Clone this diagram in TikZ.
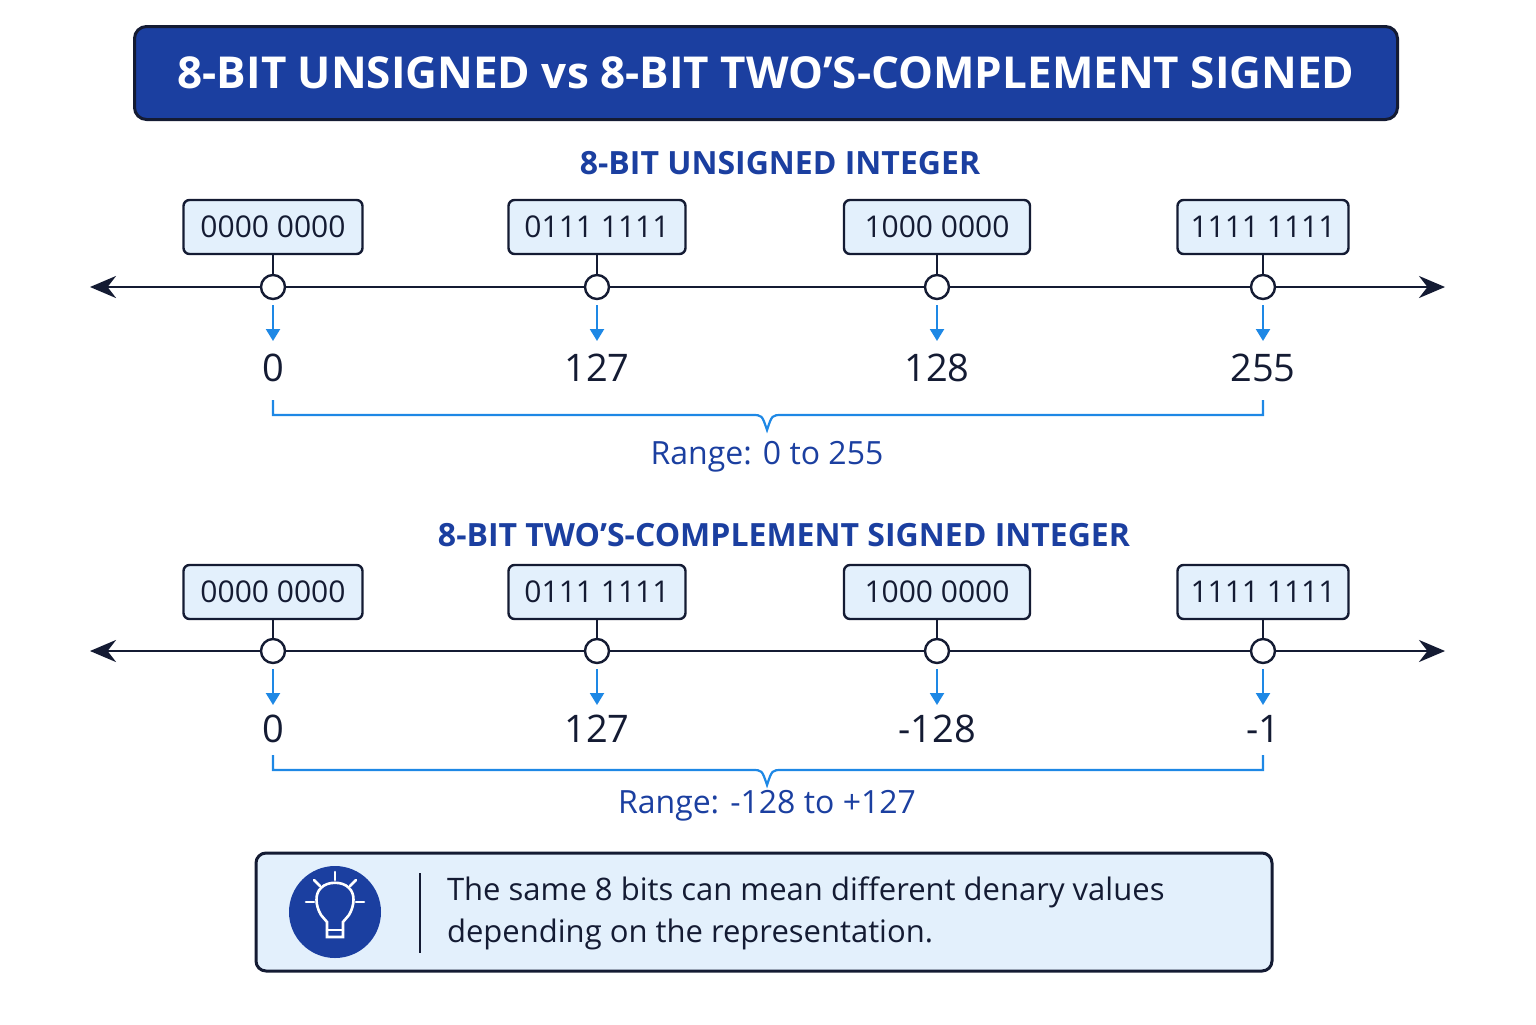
\documentclass[tikz,border=0pt]{standalone}
\usepackage{fontspec}
\setmainfont{Open Sans}
\usetikzlibrary{arrows.meta}
\definecolor{navy}{HTML}{1B3FA0}
\definecolor{dark}{HTML}{141B33}
\definecolor{lblue}{HTML}{E3F0FC}
\definecolor{abl}{HTML}{1E88E5}
\begin{document}
\begin{tikzpicture}[x=0.5pt,y=-0.5pt,
 bin/.style={draw=dark,line width=1.2pt,rounded corners=3pt,fill=lblue,minimum height=27pt,inner xsep=0pt,font=\fontsize{15}{18}\selectfont\color{dark}},
 tick/.style={circle,draw=dark,line width=1.2pt,fill=white,minimum size=12pt,inner sep=0pt},
 val/.style={font=\fontsize{19}{22}\selectfont\color{dark}},
 hd/.style={font=\fontsize{16}{19}\selectfont\bfseries\color{navy}},
 rng/.style={font=\fontsize{16}{19}\selectfont\color{navy}},
 varr/.style={abl,line width=1.1pt,-{Triangle[length=6pt,width=7pt]}},
 axis/.style={dark,line width=1.4pt,{Stealth[length=13pt,width=11pt]}-{Stealth[length=13pt,width=11pt]}},
 brc/.style={abl,line width=1.1pt}]
\useasboundingbox (0,0) rectangle (1536,1024);
\node[draw=dark,line width=1.5pt,fill=navy,rounded corners=6pt,minimum width=631.5pt,minimum height=46.5pt,font=\fontsize{22}{26}\selectfont\bfseries\color{white}] (title) at (766,73) {8-BIT UNSIGNED vs 8-BIT TWO’S-COMPLEMENT SIGNED};
\node[hd] (h1) at (780,163) {8-BIT UNSIGNED INTEGER};
\node[hd] (h2) at (784,535) {8-BIT TWO’S-COMPLEMENT SIGNED INTEGER};
\foreach \row/\ly/\vy/\by/\bry/\rl/\ry/\va/\vb/\vc/\vd in {a/287/368/227/400/{Range: 0 to 255}/457/0/127/128/255, b/651/729/592/755/{Range: -128 to +127}/806/0/127/-128/-1}{
 \coordinate (\row L) at (90,\ly); \coordinate (\row R) at (1445,\ly);
 \draw[axis] (\row L) -- (\row R);
 \foreach \i/\x/\w/\t/\v in {1/273/179/0000 0000/\va, 2/597/177/0111 1111/\vb, 3/937/186/1000 0000/\vc, 4/1263/171/1111 1111/\vd}{
  \node[bin,minimum width=\w*0.5pt] (\row box\i) at (\x,\by) {\t};
  \node[tick] (\row t\i) at (\x,\ly) {};
  \draw[dark,line width=1.2pt] (\row box\i.south) -- (\row t\i.north);
  \coordinate (\row s\i) at (\x,\ly+18); \coordinate (\row e\i) at (\x,\ly+54);
  \draw[varr] (\row s\i) -- (\row e\i);
  \node[val] (\row v\i) at (\x,\vy) {\v};
 }
 \coordinate (\row b1) at (273,\bry); \coordinate (\row b2) at (1263,\bry);
 \coordinate (\row bm) at (767,\bry+30);
 \draw[brc] (\row b1) -- ++(0,15) -- (752,\bry+15) .. controls (762,\bry+15) .. (\row bm) .. controls (772,\bry+15) .. (782,\bry+15) -- (1263,\bry+15) -- (\row b2);
 \node[rng] (\row range) at (767,\ry) {\rl};
}
\node[draw=dark,line width=1.5pt,fill=lblue,rounded corners=5pt,minimum width=508pt,minimum height=59pt] (note) at (764,912) {};
\node[circle,fill=navy,minimum size=46pt] (icon) at (335,912) {};
\begin{scope}[white,line width=1.3pt,line cap=round]
 \draw (335,905) ++(-14,10) .. controls (335-20,905) and (335-20,893) .. (335-14,888) .. controls (335-8,881) and (335+8,881) .. (335+14,888) .. controls (335+20,893) and (335+20,905) .. (335+14,915) -- (335+8,922) -- (335+8,937) -- (335-8,937) -- (335-8,922) -- cycle;
 \draw (327,930) -- (343,930);
 \draw (335,872) -- (335,880); \draw (314,880) -- (320,886); \draw (356,880) -- (350,886);
 \draw (306,902) -- (314,902); \draw (356,902) -- (364,902);
\end{scope}
\coordinate (sepA) at (420,873); \coordinate (sepB) at (420,953);
\draw[dark,line width=1.4pt] (sepA) -- (sepB);
\node[anchor=west,align=left,font=\fontsize{15.5}{21}\selectfont\color{dark}] (txt) at (440,913) {The same 8 bits can mean different denary values\\depending on the representation.};
\end{tikzpicture}
\end{document}
